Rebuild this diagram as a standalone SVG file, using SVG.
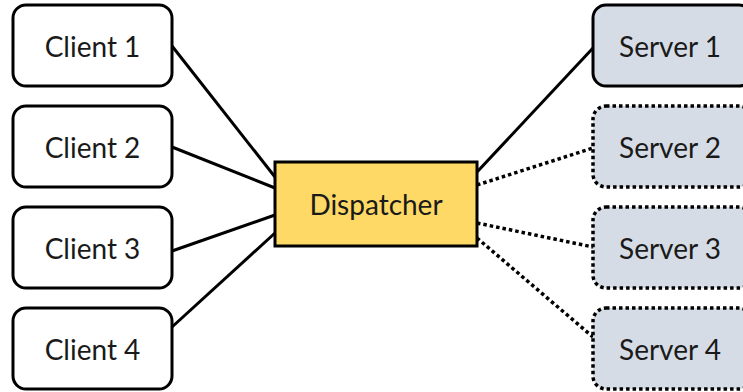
<svg xmlns="http://www.w3.org/2000/svg" width="743" height="392" viewBox="0 0 743 392">
<style>
.client rect{fill:#fff;stroke:#000;stroke-width:3}
.server rect{fill:#D6DCE5;stroke:#000;stroke-width:3}
.server.off rect{stroke-width:3.5;stroke-dasharray:3.5 3}
.disp rect{fill:#FFD966;stroke:#000;stroke-width:3}
text{font-family:Lato,"Open Sans",sans-serif;font-size:28px;fill:#1a1a1a;text-anchor:middle;dominant-baseline:central}
.conn line{stroke:#000;stroke-width:3}
.conn line.dot{stroke-width:3.5;stroke-dasharray:3.5 3}
</style>
<rect width="743" height="392" fill="#fff"/>
<g class="conn">
<line x1="172" y1="46" x2="275" y2="177"/>
<line x1="172" y1="147" x2="275" y2="188"/>
<line x1="172" y1="251" x2="275" y2="215"/>
<line x1="172" y1="327" x2="275" y2="233"/>
<line x1="477" y1="172" x2="593" y2="48"/>
<line class="dot" x1="477" y1="185" x2="593" y2="148"/>
<line class="dot" x1="477" y1="223" x2="593" y2="247"/>
<line class="dot" x1="477" y1="238" x2="593" y2="337"/>
</g>
<g id="client1" class="client"><rect x="13" y="5" width="159" height="81" rx="13"/><text x="92.5" y="46">Client 1</text></g>
<g id="client2" class="client"><rect x="13" y="106" width="159" height="81" rx="13"/><text x="92.5" y="147">Client 2</text></g>
<g id="client3" class="client"><rect x="13" y="207" width="159" height="81" rx="13"/><text x="92.5" y="248">Client 3</text></g>
<g id="client4" class="client"><rect x="13" y="308" width="159" height="81" rx="13"/><text x="92.5" y="349">Client 4</text></g>
<g id="dispatcher" class="disp"><rect x="275" y="162" width="202" height="84"/><text x="376" y="204">Dispatcher</text></g>
<g id="server1" class="server"><rect x="593" y="5" width="159" height="81" rx="13"/><text x="670" y="46">Server 1</text></g>
<g id="server2" class="server off"><rect x="593" y="106" width="159" height="81" rx="13"/><text x="670" y="147">Server 2</text></g>
<g id="server3" class="server off"><rect x="593" y="207" width="159" height="81" rx="13"/><text x="670" y="248">Server 3</text></g>
<g id="server4" class="server off"><rect x="593" y="308" width="159" height="81" rx="13"/><text x="670" y="349">Server 4</text></g>
</svg>
